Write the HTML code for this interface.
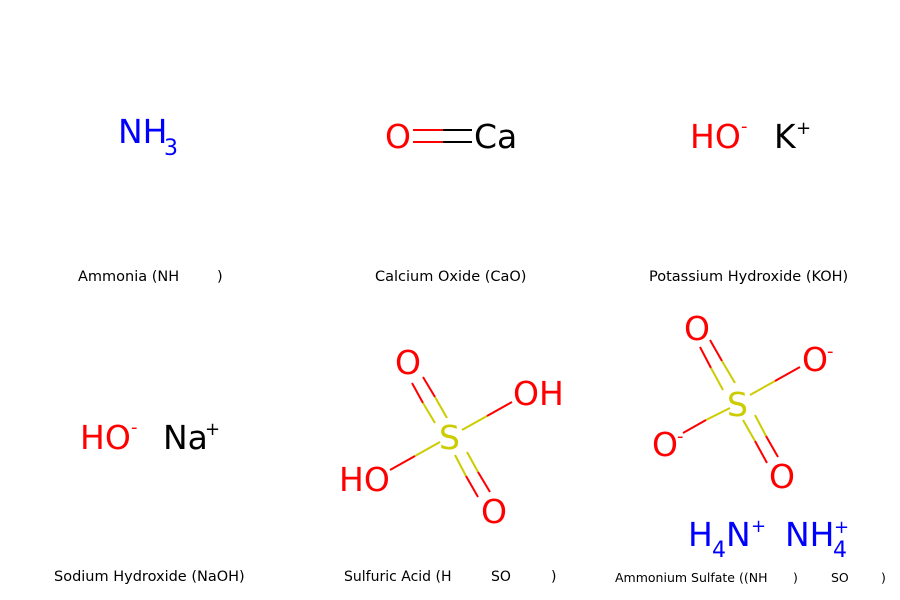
<!DOCTYPE html>
<html><head><meta charset="utf-8"><style>
html,body{margin:0;padding:0;background:#fff;}
svg{display:block;}
text{font-family:"DejaVu Sans","Liberation Sans",sans-serif;}
.b{font-size:33px;}
.s{font-size:22px;}
.p{font-size:18px;}
.l{font-size:14.5px;fill:#000;}
</style></head><body>
<svg width="900" height="600" viewBox="0 0 900 600" xmlns="http://www.w3.org/2000/svg">
<rect width="900" height="600" fill="#fff"/>
<!-- Ammonia -->
<text x="118" y="143" class="b" fill="#0000FF">NH</text>
<text x="164" y="155" class="s" fill="#0000FF">3</text>
<text x="78" y="281" class="l">Ammonia (NH</text>
<text x="217" y="281" class="l">)</text>
<!-- CaO -->
<text x="385" y="148" class="b" fill="#FF0000">O</text>
<line x1="413" y1="130" x2="443" y2="130" stroke="#FF0000" stroke-width="2"/>
<line x1="443" y1="130" x2="472" y2="130" stroke="#000" stroke-width="2"/>
<line x1="413" y1="142" x2="443" y2="142" stroke="#FF0000" stroke-width="2"/>
<line x1="443" y1="142" x2="472" y2="142" stroke="#000" stroke-width="2"/>
<text x="474" y="148" class="b" fill="#000">Ca</text>
<text x="375" y="281" class="l">Calcium Oxide (CaO)</text>
<!-- KOH -->
<text x="690" y="148" class="b" fill="#FF0000">HO</text>
<text x="741" y="132" class="p" fill="#FF0000">-</text>
<text x="774" y="148" class="b" fill="#000">K</text>
<text x="796" y="134" class="p" fill="#000">+</text>
<text x="649" y="281" class="l">Potassium Hydroxide (KOH)</text>
<!-- NaOH -->
<text x="80" y="449" class="b" fill="#FF0000">HO</text>
<text x="131" y="433" class="p" fill="#FF0000">-</text>
<text x="163" y="449" class="b" fill="#000">Na</text>
<text x="205" y="435" class="p" fill="#000">+</text>
<text x="54" y="581" class="l">Sodium Hydroxide (NaOH)</text>
<!-- Sulfuric acid -->
<g stroke-width="2">
<line x1="423" y1="377" x2="435" y2="397" stroke="#FF0000"/><line x1="435" y1="397" x2="447" y2="418" stroke="#CCCC00"/>
<line x1="412" y1="383" x2="423" y2="403" stroke="#FF0000"/><line x1="423" y1="403" x2="435" y2="423" stroke="#CCCC00"/>
<line x1="462" y1="430" x2="487" y2="416" stroke="#CCCC00"/><line x1="487" y1="416" x2="512" y2="402" stroke="#FF0000"/>
<line x1="440" y1="442" x2="415" y2="456" stroke="#CCCC00"/><line x1="415" y1="456" x2="390" y2="470" stroke="#FF0000"/>
<line x1="455" y1="455" x2="466" y2="476" stroke="#CCCC00"/><line x1="466" y1="476" x2="478" y2="497" stroke="#FF0000"/>
<line x1="467" y1="452" x2="478" y2="472" stroke="#CCCC00"/><line x1="478" y1="472" x2="490" y2="492" stroke="#FF0000"/>
</g>
<text x="439" y="449" class="b" fill="#CCCC00">S</text>
<text x="395" y="374" class="b" fill="#FF0000">O</text>
<text x="513" y="405" class="b" fill="#FF0000">OH</text>
<text x="339" y="491" class="b" fill="#FF0000">HO</text>
<text x="481" y="523" class="b" fill="#FF0000">O</text>
<text x="344" y="581" class="l" style="font-size:14px">Sulfuric Acid (H</text>
<text x="491" y="581" class="l" style="font-size:14px">SO</text>
<text x="551" y="581" class="l" style="font-size:14px">)</text>
<!-- Ammonium sulfate -->
<g stroke-width="2">
<line x1="700" y1="347" x2="711" y2="368" stroke="#FF0000"/><line x1="711" y1="368" x2="723" y2="390" stroke="#CCCC00"/>
<line x1="710" y1="340" x2="722" y2="361" stroke="#FF0000"/><line x1="722" y1="361" x2="735" y2="383" stroke="#CCCC00"/>
<line x1="750" y1="395" x2="775" y2="381" stroke="#CCCC00"/><line x1="775" y1="381" x2="800" y2="367" stroke="#FF0000"/>
<line x1="730" y1="408" x2="706" y2="420" stroke="#CCCC00"/><line x1="706" y1="420" x2="683" y2="433" stroke="#FF0000"/>
<line x1="743" y1="420" x2="755" y2="441" stroke="#CCCC00"/><line x1="755" y1="441" x2="767" y2="463" stroke="#FF0000"/>
<line x1="755" y1="415" x2="766" y2="436" stroke="#CCCC00"/><line x1="766" y1="436" x2="778" y2="457" stroke="#FF0000"/>
</g>
<text x="727" y="416" class="b" fill="#CCCC00">S</text>
<text x="684" y="340" class="b" fill="#FF0000">O</text>
<text x="802" y="371" class="b" fill="#FF0000">O</text>
<text x="827" y="357" class="p" fill="#FF0000">-</text>
<text x="652" y="456" class="b" fill="#FF0000">O</text>
<text x="677" y="442" class="p" fill="#FF0000">-</text>
<text x="769" y="488" class="b" fill="#FF0000">O</text>
<text x="688" y="546" class="b" fill="#0000FF">H</text>
<text x="712" y="557" class="s" fill="#0000FF">4</text>
<text x="726" y="546" class="b" fill="#0000FF">N</text>
<text x="751" y="532" class="p" fill="#0000FF">+</text>
<text x="785" y="546" class="b" fill="#0000FF">NH</text>
<text x="833" y="557" class="s" fill="#0000FF">4</text>
<text x="834" y="533" class="p" fill="#0000FF">+</text>
<text x="615" y="582" class="l" style="font-size:12.5px">Ammonium Sulfate ((NH</text>
<text x="793" y="582" class="l" style="font-size:12.5px">)</text>
<text x="831" y="582" class="l" style="font-size:12.5px">SO</text>
<text x="881" y="582" class="l" style="font-size:12.5px">)</text>
</svg>
</body></html>
